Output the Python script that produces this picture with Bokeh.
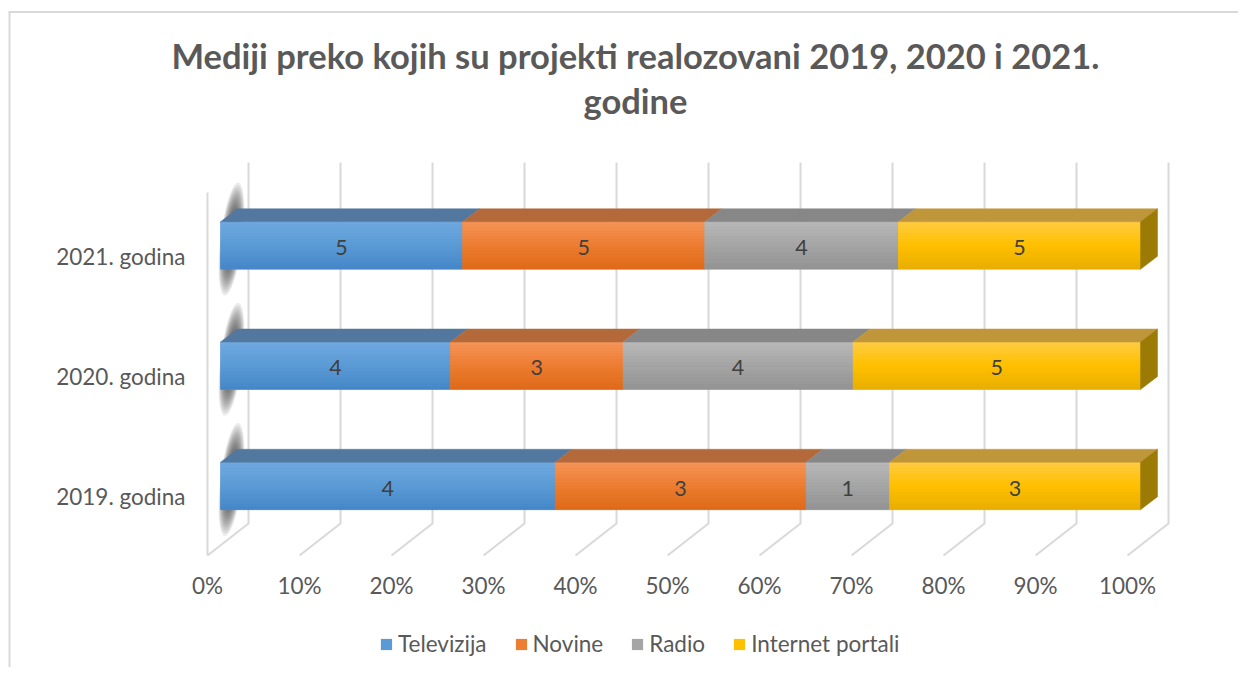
import numpy as np
from bokeh.plotting import figure
from bokeh.models import Range1d, ColumnDataSource, Legend, LegendItem
from bokeh.core.properties import value
from bokeh.embed import file_html
from bokeh.resources import INLINE

# ---------------- data ----------------
categories = ["2019. godina", "2020. godina", "2021. godina"]
series_names = ["Televizija", "Novine", "Radio", "Internet portali"]
televizija = [4, 4, 5]
novine = [3, 3, 5]
radio = [1, 4, 4]
internet_portali = [3, 5, 5]
x_ticks = [0, 10, 20, 30, 40, 50, 60, 70, 80, 90, 100]
x_tick_labels = ["0%", "10%", "20%", "30%", "40%", "50%", "60%", "70%", "80%", "90%", "100%"]
title_lines = ["Mediji preko kojih su projekti realozovani 2019, 2020 i 2021.", "godine"]

# ---------------- styles ----------------
# (front top, front mid, front bottom, top face, right face)
series_colors = [
    ("#70a9e1", "#5b9bd5", "#4586c8", "#52789f", "#41648a"),
    ("#f5955a", "#ed7d31", "#de6a18", "#b4693b", "#9a5020"),
    ("#b9b9b9", "#a5a5a5", "#939393", "#878787", "#707070"),
    ("#ffcc45", "#ffc000", "#e8ae00", "#c0963a", "#9c7a06"),
]
FONT = "Lato"
TXT = "#595959"
GRID = "#d9d9d9"

W, H = 1238, 667
SX = 9.2      # px per percent
SY = 120.25   # px per category step


def fx(px_x):
    return (px_x - 207) / SX


def fy(px_y):
    return (496 - px_y) / SY


def hx(px):
    return px / SX


def vy(px):
    return px / SY


p = figure(width=W, height=H, x_range=Range1d(fx(0), fx(W)), y_range=Range1d(fy(H), fy(0)),
           min_border=0, x_axis_location=None, y_axis_location=None,
           toolbar_location=None, output_backend="svg", title=None)
p.outline_line_color = None
p.xgrid.visible = False
p.ygrid.visible = False
p.background_fill_color = "white"
p.border_fill_color = "white"

# chart border (top and left visible)
p.segment(x0=[fx(8), fx(9)], y0=[fy(11.5), fy(11.5)], x1=[fx(W), fx(9)], y1=[fy(11.5), fy(H)],
          line_color=GRID, line_width=2)

# ---------------- 3D grid ----------------
DEPTH_X, DEPTH_Y = 41, 32
y_floor = fy(555)
y_top_back = fy(162)
y_top_front = fy(192)
gxs, gys = [], []
for t in x_ticks:
    gxs.append([t, t + hx(DEPTH_X), t + hx(DEPTH_X)])
    gys.append([y_floor, y_floor + vy(DEPTH_Y), y_top_back])
gxs.append([x_ticks[0], x_ticks[0]])
gys.append([y_floor, y_top_front])
p.multi_line(gxs, gys, line_color=GRID, line_width=2)

# ---------------- bars ----------------
vals = np.array([televizija, novine, radio, internet_portali], dtype=float)
pct = vals / vals.sum(axis=0) * 100
cum_r = np.cumsum(pct, axis=0)
cum_l = cum_r - pct

FRONT_DX, FRONT_DY = 13, 10.5
TOP_DX, TOP_DY = 17, 13
HALF = 23.75

# shadows at left end of bars
for i in range(len(categories)):
    cx = hx(24)
    cy = i + vy(17)
    for k in range(14):
        s = 1.0 - k * 0.05
        p.ellipse(x=[cx], y=[cy], width=22 * s, height=114 * s, width_units="screen",
                  height_units="screen", angle=-0.12, fill_color="#222222", fill_alpha=0.085,
                  line_color=None)


def mix(c1, c2, t):
    a = np.array([int(c1[j:j + 2], 16) for j in (1, 3, 5)], dtype=float)
    b = np.array([int(c2[j:j + 2], 16) for j in (1, 3, 5)], dtype=float)
    c = a + (b - a) * t
    return "#%02x%02x%02x" % tuple(int(round(v)) for v in c)


legend_items = []
N = 16
for s, name in enumerate(series_names):
    ctop, cmid, cbot, ctopface, cright = series_colors[s]
    lefts = cum_l[s] + hx(FRONT_DX)
    rights = cum_r[s] + hx(FRONT_DX)
    centers = np.arange(len(categories)) + vy(FRONT_DY)
    tops = centers + vy(HALF)
    bottoms = centers - vy(HALF)
    src = ColumnDataSource(dict(left=lefts, right=rights, top=tops, bottom=bottoms))
    r = p.quad(left="left", right="right", top="top", bottom="bottom", source=src,
               fill_color=cmid, line_color=None)
    legend_items.append(LegendItem(label=name, renderers=[r]))

    # gradient strips
    sl, sr, st, sb, sc = [], [], [], [], []
    for i in range(len(categories)):
        h = tops[i] - bottoms[i]
        for k in range(N):
            t = (k + 0.5) / N
            col = mix(ctop, cmid, t * 2) if t < 0.5 else mix(cmid, cbot, (t - 0.5) * 2)
            sl.append(lefts[i]); sr.append(rights[i])
            st.append(tops[i] - h * k / N); sb.append(tops[i] - h * (k + 1) / N)
            sc.append(col)
    p.quad(left=sl, right=sr, top=st, bottom=sb, fill_color=sc, line_color=sc, line_width=0.4)

    # top faces
    txs, tys = [], []
    for i in range(len(categories)):
        txs.append([lefts[i], rights[i], rights[i] + hx(TOP_DX), lefts[i] + hx(TOP_DX)])
        tys.append([tops[i], tops[i], tops[i] + vy(TOP_DY), tops[i] + vy(TOP_DY)])
    p.patches(txs, tys, fill_color=ctopface, line_color=ctopface, line_width=0.5)

    # right end face (last series only)
    if s == len(series_names) - 1:
        rxs, rys = [], []
        for i in range(len(categories)):
            rxs.append([rights[i], rights[i] + hx(TOP_DX), rights[i] + hx(TOP_DX), rights[i]])
            rys.append([tops[i], tops[i] + vy(TOP_DY), bottoms[i] + vy(TOP_DY), bottoms[i]])
        p.patches(rxs, rys, fill_color=cright, line_color=cright, line_width=0.5)

    # value labels
    p.text(x=(lefts + rights) / 2, y=centers - vy(2), text=[str(int(v)) for v in vals[s]],
           text_align="center", text_baseline="middle", text_color="#404040",
           text_font=value(FONT), text_font_size="21.5px")

# ---------------- axis texts ----------------
p.text(x=[fx(185)] * len(categories), y=list(range(len(categories))), text=categories,
       text_align="right", text_baseline="middle", text_color=TXT,
       text_font=value(FONT), text_font_size="22.5px")
p.text(x=x_ticks, y=[fy(585)] * len(x_ticks), text=x_tick_labels,
       text_align="center", text_baseline="middle", text_color=TXT,
       text_font=value(FONT), text_font_size="22.5px")

# ---------------- title ----------------
p.text(x=[fx(635), fx(635)], y=[fy(55), fy(100)], text=title_lines,
       text_align="center", text_baseline="middle", text_color=TXT,
       text_font=value(FONT), text_font_style="bold", text_font_size="34.5px")

# ---------------- legend ----------------
legend = Legend(items=legend_items, orientation="horizontal", location=(379, 10),
                glyph_width=14, glyph_height=14, label_standoff=5, spacing=27,
                padding=0, margin=0, border_line_color=None, background_fill_alpha=0,
                label_text_font=FONT, label_text_font_size="22.5px", label_text_color=TXT,
                label_height=14)
p.add_layout(legend)

open("out.html", "w").write(file_html(p, INLINE))
